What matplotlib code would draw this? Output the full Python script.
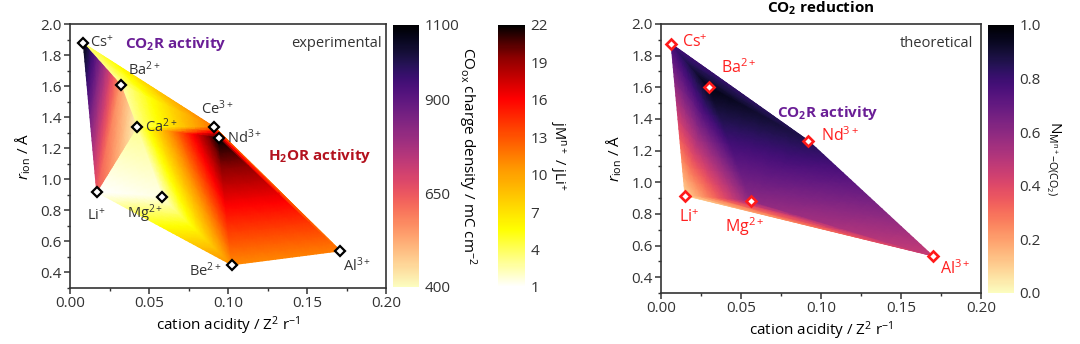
import numpy as np
import matplotlib
matplotlib.use("Agg")
import matplotlib.pyplot as plt
import matplotlib.tri as mtri
from matplotlib.colors import LinearSegmentedColormap
from matplotlib.ticker import MultipleLocator

# ---- data: experimental panel ----
ions_exp = ["Cs", "Ba", "Ca", "Li", "Mg", "Ce", "Nd", "Be", "Al"]
charge_exp = ["+", "2+", "2+", "+", "2+", "3+", "3+", "2+", "3+"]
acidity_exp = [0.0084, 0.0321, 0.0422, 0.0169, 0.0581, 0.0914, 0.0940, 0.1024, 0.1710]
radius_exp = [1.876, 1.606, 1.336, 0.918, 0.888, 1.336, 1.267, 0.449, 0.539]
# j(M^n+) / j(Li+) at each cation
j_ratio = [3.5, 2.5, 3.0, 1.0, 1.5, 12.0, 22.0, 11.0, 11.5]
# CO_ox charge density (mC cm-2), only measured for these cations
co_ions = ["Cs", "Ba", "Ca", "Li"]
co_charge = [1080, 540, 410, 640]

# ---- data: theoretical panel ----
ions_th = ["Cs", "Ba", "Li", "Mg", "Nd", "Al"]
charge_th = ["+", "2+", "+", "2+", "3+", "3+"]
acidity_th = [0.0063, 0.0298, 0.0150, 0.0560, 0.0921, 0.1698]
radius_th = [1.875, 1.600, 0.916, 0.884, 1.262, 0.535]
n_coord = [0.78, 0.96, 0.08, 0.60, 0.86, 0.46]

# triangle topology (ion names)
hot_tris = [("Cs", "Ba", "Ce"), ("Ba", "Ca", "Ce"), ("Ca", "Ce", "Nd"), ("Ca", "Nd", "Mg"),
            ("Ca", "Mg", "Li"), ("Li", "Mg", "Be"), ("Mg", "Nd", "Be"), ("Nd", "Be", "Al"),
            ("Ce", "Nd", "Al")]
co_tris = [("Cs", "Ba", "Li"), ("Ba", "Ca", "Li")]
th_tris = [("Cs", "Ba", "Li"), ("Cs", "Ba", "Nd"), ("Ba", "Nd", "Mg"), ("Ba", "Mg", "Li"),
           ("Li", "Mg", "Al"), ("Mg", "Nd", "Al")]

# label offsets in points (dx, dy, ha)
offs_exp = {"Cs": (5, 0, "left"), "Ba": (5, 11, "left"), "Ca": (6, 0, "left"),
            "Li": (0, -17, "center"), "Mg": (1, -12, "right"), "Ce": (2, 13, "center"),
            "Nd": (6, 0, "left"), "Be": (-7, -4, "right"), "Al": (2, -11, "left")}
offs_th = {"Cs": (8, 1, "left"), "Ba": (9, 14, "left"), "Nd": (9, 4, "left"),
           "Li": (3, -16, "center"), "Mg": (-4, -19, "center"), "Al": (5, -9, "left")}

plt.rcParams["font.family"] = ["Open Sans", "DejaVu Sans"]
plt.rcParams["mathtext.fontset"] = "custom"
plt.rcParams["mathtext.rm"] = "Open Sans"
plt.rcParams["mathtext.it"] = "Open Sans:italic"
plt.rcParams["mathtext.bf"] = "Open Sans:bold"
plt.rcParams["mathtext.default"] = "regular"
plt.rcParams["axes.edgecolor"] = "#333333"
plt.rcParams["text.color"] = "#333333"
plt.rcParams["xtick.color"] = "#333333"
plt.rcParams["ytick.color"] = "#333333"

hot_cmap = LinearSegmentedColormap.from_list(
    "hotish", [(0, "#ffffff"), (0.22, "#ffff00"), (0.45, "#ff9900"),
               (0.72, "#ff0000"), (0.88, "#8b0000"), (1, "#000000")])
magma_r = plt.get_cmap("magma_r")

W, H = 1080, 344
fig = plt.figure(figsize=(W / 100, H / 100), dpi=100)
ax1 = fig.add_axes([70 / W, 1 - 288 / H, 316 / W, 264 / H])
cax1 = fig.add_axes([393 / W, 1 - 287 / H, 26 / W, 262 / H])
cax2 = fig.add_axes([498 / W, 1 - 287 / H, 27 / W, 262 / H])
ax2 = fig.add_axes([661 / W, 1 - 293 / H, 320 / W, 269 / H])
cax3 = fig.add_axes([988 / W, 1 - 293 / H, 26 / W, 268 / H])


def tri_index(names, tris):
    return [[names.index(n) for n in t] for t in tris]


def surface(ax, x, y, tris, z, **kw):
    # interpolate the values (not the colours) on a finer mesh
    tr = mtri.Triangulation(x, y, tris)
    interp = mtri.LinearTriInterpolator(tr, z)
    fine, zf = mtri.UniformTriRefiner(tr).refine_field(z, triinterpolator=interp, subdiv=5)
    return ax.tripcolor(fine, zf, shading="gouraud", **kw)


# experimental surfaces
hot = surface(ax1, acidity_exp, radius_exp, tri_index(ions_exp, hot_tris), j_ratio,
              cmap=hot_cmap, vmin=1, vmax=22)
co_x = [acidity_exp[ions_exp.index(n)] for n in co_ions]
co_y = [radius_exp[ions_exp.index(n)] for n in co_ions]
co = surface(ax1, co_x, co_y, tri_index(co_ions, co_tris), co_charge,
             cmap=magma_r, vmin=400, vmax=1100)

ax1.plot(acidity_exp, radius_exp, ls="none", marker="D", ms=5.5, mfc="white",
         mec="black", mew=1.6, zorder=5)
for name, ch, x, y in zip(ions_exp, charge_exp, acidity_exp, radius_exp):
    dx, dy, ha = offs_exp[name]
    ax1.annotate(name + "$^{" + ch + "}$", (x, y), xytext=(dx, dy), textcoords="offset points",
                 ha=ha, va="center", fontsize=10.5, color="#333333", zorder=6)

ax1.text(0.035, 1.87, "CO$_2$R activity", color="#6a1e96", fontweight="bold",
         fontsize=11, va="center")
ax1.text(0.197, 1.875, "experimental", ha="right", va="center", fontsize=10.5)
ax1.text(0.125, 1.15, "H$_2$OR activity", color="#b3121e", fontweight="bold",
         fontsize=11, va="center")

# theoretical surface
th = surface(ax2, acidity_th, radius_th, tri_index(ions_th, th_tris), n_coord,
             cmap=magma_r, vmin=0, vmax=1)
ax2.plot(acidity_th, radius_th, ls="none", marker="D", ms=5.5, mfc="white",
         mec="#ff1a1a", mew=1.9, zorder=5)
for name, ch, x, y in zip(ions_th, charge_th, acidity_th, radius_th):
    dx, dy, ha = offs_th[name]
    ax2.annotate(name + "$^{" + ch + "}$", (x, y), xytext=(dx, dy), textcoords="offset points",
                 ha=ha, va="center", fontsize=11.5, color="#ff2020", zorder=6)
ax2.text(0.0725, 1.44, "CO$_2$R activity", color="#6a1e96", fontweight="bold",
         fontsize=11, va="center")
ax2.text(0.195, 1.875, "theoretical", ha="right", va="center", fontsize=10.5)
ax2.text(0.5, 1.0 + 16 / 269, "CO$_2$ reduction", transform=ax2.transAxes, ha="center",
         va="center", fontweight="bold", fontsize=11, color="black")

for ax in (ax1, ax2):
    ax.set_xlim(0, 0.2)
    ax.set_ylim(0.3, 2.0)
    ax.xaxis.set_major_locator(MultipleLocator(0.05))
    ax.xaxis.set_minor_locator(MultipleLocator(0.025))
    ax.yaxis.set_minor_locator(MultipleLocator(0.1))
    ax.set_yticks([0.4, 0.6, 0.8, 1.0, 1.2, 1.4, 1.6, 1.8, 2.0])
    ax.xaxis.set_major_formatter(plt.FormatStrFormatter("%.2f"))
    ax.yaxis.set_major_formatter(plt.FormatStrFormatter("%.1f"))
    ax.tick_params(which="major", direction="out", length=4, width=1.1, labelsize=11, pad=2)
    ax.tick_params(which="minor", direction="out", length=2.5, width=1.0)
    for s in ax.spines.values():
        s.set_linewidth(1.2)
    ax.set_xlabel("cation acidity / Z$^2$ r$^{-1}$", fontsize=11, labelpad=2)
    ax.set_ylabel(r"$\mathit{r}_{\mathrm{ion}}$ / Å", fontsize=11, labelpad=5)

# colorbars
cb1 = fig.colorbar(co, cax=cax1, ticks=[400, 650, 900, 1100])
cb1.set_label("CO$_{\\mathrm{ox}}$ charge density / mC cm$^{-2}$", rotation=270,
              labelpad=14, fontsize=11)
cb2 = fig.colorbar(hot, cax=cax2, ticks=[1, 4, 7, 10, 13, 16, 19, 22])
cb2.set_label("jM$^{n+}$ / jLi$^{+}$", rotation=270, labelpad=14, fontsize=10.5)
cb3 = fig.colorbar(th, cax=cax3, ticks=[0, 0.2, 0.4, 0.6, 0.8, 1.0])
cb3.ax.yaxis.set_major_formatter(plt.FormatStrFormatter("%.1f"))
cb3.set_label(r"$N_{\mathrm{M}^{n+}\mathrm{-O(CO_2)}}$", rotation=270, labelpad=16, fontsize=11)
for cb in (cb1, cb2, cb3):
    cb.outline.set_visible(False)
    cb.ax.tick_params(length=0, labelsize=11, pad=4)

fig.savefig("out.png", dpi=100)
